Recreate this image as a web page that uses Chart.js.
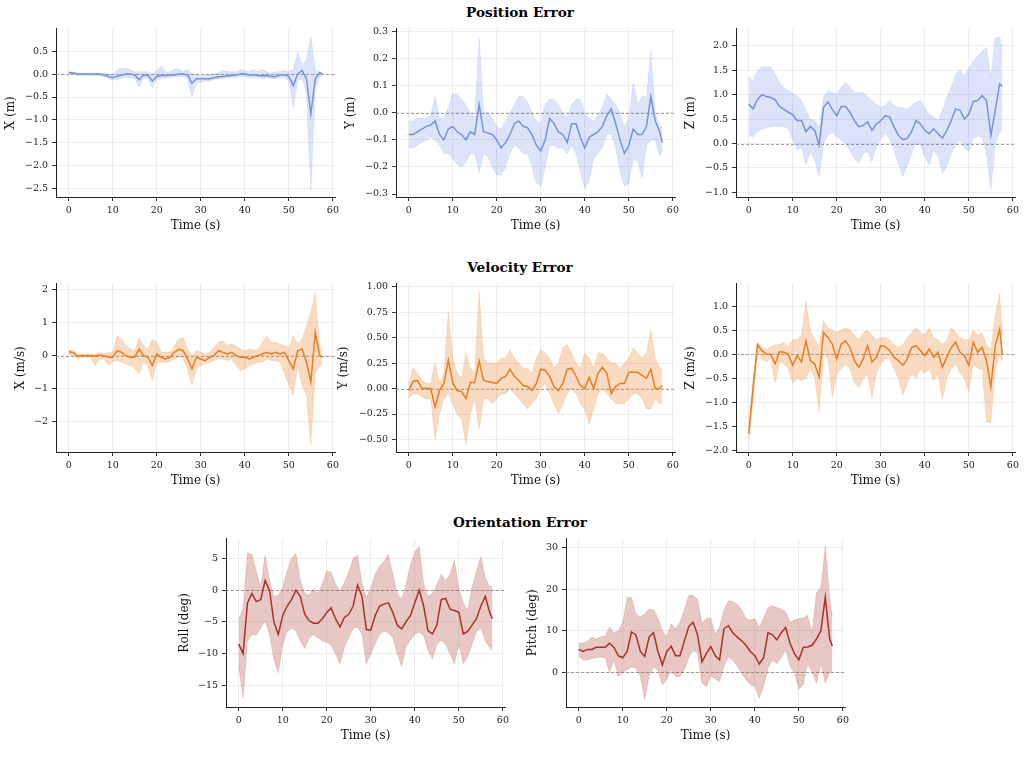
<!DOCTYPE html>
<html>
<head>
<meta charset="utf-8">
<title>Error plots</title>
<script src="https://cdn.jsdelivr.net/npm/chart.js@4.4.1/dist/chart.umd.min.js"></script>
<style>
  body { margin: 0; background: #fff; width: 1025px; height: 776px; position: relative; overflow: hidden; font-family: 'DejaVu Serif', serif; }
  .heading { position: absolute; left: 0; width: 1040px; text-align: center; font-weight: bold; font-size: 13.6px; line-height: 16px; color: #000; }
  canvas { position: absolute; }
</style>
</head>
<body>
<div class="heading" style="top:4px">Position Error</div>
<div class="heading" style="top:259px">Velocity Error</div>
<div class="heading" style="top:514px">Orientation Error</div>

<script>
// time stamps (s)
const TIME = [0,1,2,3,4,5,6,7,8,9,10,11,12,13,14,15,16,17,18,19,20,21,22,23,24,25,26,27,28,29,
  30,31,32,33,34,35,36,37,38,39,40,41,42,43,44,45,46,47,48,49,50,51,52,53,54,55,56,57,57.6];

// ---- position error (m) ----
const POS_X_MEAN = [0.03,0.03,0,0,0,0,0,0,-0.02,-0.05, -0.08,-0.05,-0.02,0,0,-0.02,-0.12,-0.02,-0.03,-0.15,
  -0.05,-0.03,-0.03,-0.02,-0.02,0,0,-0.02,-0.2,-0.1, -0.1,-0.1,-0.1,-0.08,-0.06,-0.05,-0.04,-0.03,-0.02,0,
  0,-0.02,-0.02,-0.03,-0.04,-0.03,-0.05,-0.05,-0.02,-0.02, -0.05,-0.25,0,0.08,-0.1,-0.87,-0.1,0.03, 0];
const POS_X_HI = [0.05,0.05,0.02,0.02,0.02,0.02,0.02,0.02,0.02,0, 0,0.1,0.12,0.12,0.1,0.05,0.05,0.05,0.05,0,
  0.08,0.17,0.05,0.05,0.1,0.12,0.05,0.1,0,0, -0.05,-0.02,0,0,0.03,0.08,0.05,0.05,0.05,0.1,
  0.08,0.05,0.1,0.05,0.1,0.05,0.02,0.05,0.05,0.08, 0.05,0.1,0.47,0.2,0.3,0.82,0.1,0.05, 0.03];
const POS_X_LO = [0,0,-0.03,-0.03,-0.03,-0.03,-0.03,-0.03,-0.05,-0.1, -0.13,-0.12,-0.1,-0.08,-0.08,-0.1,-0.28,-0.08,-0.1,-0.3,
  -0.12,-0.1,-0.08,-0.08,-0.05,-0.05,-0.05,-0.1,-0.5,-0.2, -0.17,-0.15,-0.15,-0.12,-0.1,-0.1,-0.08,-0.08,-0.08,-0.05,
  -0.05,-0.08,-0.08,-0.08,-0.1,-0.08,-0.1,-0.1,-0.08,-0.08, -0.15,-0.7,-0.15,-0.1,-0.4,-2.55,-0.3,-0.05, -0.03];

const POS_Y_MEAN = [-0.08,-0.08,-0.07,-0.06,-0.05,-0.045,-0.03,-0.08,-0.1,-0.06, -0.05,-0.07,-0.08,-0.1,-0.07,-0.08,0.03,-0.07,-0.075,-0.08,
  -0.1,-0.13,-0.11,-0.08,-0.04,-0.03,-0.05,-0.055,-0.08,-0.12, -0.14,-0.1,-0.02,-0.04,-0.07,-0.08,-0.11,-0.04,-0.04,-0.09,
  -0.13,-0.09,-0.08,-0.07,-0.05,-0.01,0.015,-0.04,-0.1,-0.15, -0.12,-0.06,-0.08,-0.08,-0.05,0.06,-0.03,-0.07, -0.11];
const POS_Y_HI = [-0.03,-0.03,-0.02,-0.02,-0.02,-0.01,0.06,-0.02,-0.02,0.02, 0.07,0.07,0.05,0.03,0,-0.02,0.28,0,0,-0.02,
  -0.05,-0.06,-0.03,0,0.03,0.06,0.06,0.04,0,-0.03, -0.04,0.03,0.05,0.05,0.03,0,-0.02,0.03,0.05,0.05,
  0,-0.02,-0.03,-0.01,0.02,0.07,0.05,0.03,0,-0.05, -0.02,0.11,0.03,0.06,0.06,0.23,0,-0.05, -0.05];
const POS_Y_LO = [-0.13,-0.13,-0.12,-0.11,-0.1,-0.09,-0.1,-0.12,-0.15,-0.15, -0.17,-0.19,-0.2,-0.18,-0.15,-0.15,-0.22,-0.15,-0.16,-0.2,
  -0.23,-0.23,-0.2,-0.15,-0.12,-0.13,-0.15,-0.15,-0.2,-0.26, -0.27,-0.2,-0.12,-0.12,-0.13,-0.13,-0.15,-0.12,-0.15,-0.22,
  -0.28,-0.25,-0.17,-0.15,-0.13,-0.08,-0.08,-0.13,-0.22,-0.27, -0.26,-0.17,-0.18,-0.24,-0.12,-0.1,-0.1,-0.16, -0.14];

const POS_Z_MEAN = [0.81,0.71,0.9,1.0,0.96,0.94,0.9,0.76,0.7,0.64, 0.59,0.47,0.47,0.24,0.35,0.27,-0.03,0.74,0.85,0.7,
  0.57,0.76,0.76,0.64,0.47,0.34,0.37,0.44,0.27,0.4, 0.47,0.57,0.54,0.34,0.17,0.08,0.1,0.24,0.47,0.4,
  0.27,0.2,0.3,0.2,0.11,0.27,0.47,0.71,0.68,0.5, 0.6,0.86,0.88,0.98,0.88,0.17,0.68,1.22, 1.17];
const POS_Z_HI = [1.36,1.28,1.49,1.57,1.57,1.57,1.42,1.25,1.15,1.08, 1.03,0.98,0.88,0.68,0.5,0.47,0.34,0.95,1.08,1.05,
  1.01,1.15,1.25,1.15,1.05,1.03,1.05,0.95,0.88,0.81, 0.74,0.78,0.88,0.78,0.73,0.73,0.71,0.78,0.85,0.88,
  0.74,0.6,0.54,0.47,0.68,0.95,1.15,1.42,1.5,1.38, 1.55,1.69,1.79,1.89,1.96,1.35,2.16,2.18, 2.0];
const POS_Z_LO = [0.17,0.14,0.24,0.3,0.32,0.34,0.35,0.35,0.34,0.3, 0.07,-0.14,-0.07,-0.44,-0.17,-0.34,-0.68,0,0.17,0.22,
  0.14,0.07,0,-0.14,-0.3,-0.41,-0.2,-0.17,-0.37,-0.07, 0.1,0.2,0.1,-0.14,-0.41,-0.68,-0.47,-0.2,0,-0.03,
  -0.27,-0.44,-0.14,-0.27,-0.61,-0.47,-0.2,-0.03,0.07,-0.1, -0.17,0.1,0.15,0.14,-0.2,-0.95,0,0.24, 0.27];

// ---- velocity error (m/s) ----
const VEL_X_MEAN = [0.12,0.1,-0.02,0,0,0,-0.02,0.02,0,-0.05, -0.05,0.15,0.1,0,-0.05,-0.05,0.2,0,-0.05,-0.3,
  0.05,-0.05,-0.1,-0.05,0.1,0.2,0.15,-0.1,-0.4,-0.05, -0.1,-0.15,-0.05,0,0.15,0.1,0.05,0.1,0,-0.05,
  -0.05,-0.1,-0.05,0,0.05,0.1,0.05,0.1,0.05,0.1, -0.15,-0.4,0.15,0.2,-0.2,-0.8,0.7,0, -0.05];
const VEL_X_HI = [0.18,0.15,0.05,0.05,0.05,0.05,0.05,0.1,0.05,0.1, 0.1,0.6,0.5,0.3,0.2,0.15,0.55,0.3,0.2,0.5,
  0.4,0.1,0.1,0.1,0.3,0.5,0.55,0.2,0,0.15, 0.1,0.05,0.1,0.25,0.4,0.45,0.3,0.35,0.3,0.2,
  0.15,0.2,0.15,0.2,0.4,0.6,0.4,0.4,0.35,0.3, 0.25,0.6,0.35,0.5,0.9,1.3,1.9,0.3, 0.1];
const VEL_X_LO = [0.05,0,-0.1,-0.05,-0.05,-0.05,-0.3,-0.1,-0.1,-0.3, -0.2,-0.15,-0.2,-0.25,-0.3,-0.4,-0.55,-0.2,-0.3,-0.75,
  -0.2,-0.2,-0.2,-0.2,-0.1,-0.05,-0.1,-0.4,-0.9,-0.4, -0.3,-0.25,-0.2,-0.15,-0.1,-0.1,-0.15,-0.1,-0.3,-0.45,
  -0.4,-0.3,-0.25,-0.2,-0.2,-0.1,-0.15,-0.15,-0.2,-0.55, -0.9,-1.2,-0.3,-0.9,-1.2,-2.7,-0.5,-0.3, -0.25];

const VEL_Y_MEAN = [-0.02,0.07,0.08,0,0,0,-0.18,-0.02,0.05,0.28, 0.06,-0.02,-0.03,-0.1,0.06,0.06,0.27,0.08,0.07,0.06,
  0.05,0.1,0.12,0.19,0.12,0.08,0.03,0.02,-0.02,0.05, 0.19,0.18,0.12,0.02,-0.02,0.05,0.19,0.2,0.12,0.03,
  0,0.11,0,0.15,0.21,0.15,-0.05,0.02,0.05,0.05, 0.16,0.16,0.16,0.13,0.1,0.19,0,0, 0.03];
const VEL_Y_HI = [0.05,0.2,0.15,0.08,0.05,0.05,0.25,0.05,0.15,0.75, 0.3,0.15,0.1,0.35,0.2,0.15,0.95,0.3,0.25,0.25,
  0.25,0.3,0.3,0.38,0.3,0.25,0.2,0.2,0.15,0.3, 0.38,0.35,0.3,0.2,0.25,0.4,0.43,0.35,0.25,0.2,
  0.35,0.3,0.2,0.35,0.35,0.3,0.25,0.25,0.2,0.25, 0.3,0.4,0.35,0.3,0.35,0.58,0.3,0.2, 0.2];
const VEL_Y_LO = [-0.1,-0.05,-0.05,-0.08,-0.1,-0.1,-0.5,-0.25,-0.1,-0.05, -0.15,-0.25,-0.3,-0.55,-0.25,-0.1,-0.4,-0.1,-0.1,-0.15,
  -0.1,-0.05,-0.05,0,-0.05,-0.1,-0.15,-0.2,-0.15,-0.1, 0,0.05,-0.05,-0.15,-0.25,-0.15,-0.05,0,-0.05,-0.15,
  -0.2,-0.35,-0.2,-0.05,0,-0.05,-0.1,-0.15,-0.15,-0.15, -0.1,-0.05,-0.05,-0.1,-0.2,-0.2,-0.1,-0.15, -0.15];

const VEL_Z_MEAN = [-1.65,-0.7,0.2,0.08,0,0,-0.2,0.05,0.04,0, -0.23,-0.03,-0.16,0.28,-0.13,-0.2,-0.47,0.45,0.35,0.21,
  -0.1,0.21,0.28,0.14,-0.13,-0.27,-0.1,0.18,-0.16,-0.06, 0.18,0.16,0.08,-0.06,-0.13,-0.23,-0.1,0.14,0.18,0.08,
  -0.03,0.11,-0.06,0.04,-0.27,-0.06,0.14,0.25,0.04,-0.03, -0.23,0.25,0.04,0.14,-0.13,-0.68,0.18,0.52, 0];
const VEL_Z_HI = [-1.55,-0.5,0.25,0.15,0.1,0.15,0.2,0.2,0.25,0.15, 0.3,0.3,0.4,1.1,0.5,0.3,0.2,0.7,0.55,0.5,
  0.45,0.5,0.55,0.5,0.4,0.3,0.45,0.5,0.4,0.3, 0.35,0.35,0.3,0.2,0.15,0.2,0.35,0.45,0.55,0.45,
  0.4,0.55,0.35,0.3,0.2,0.3,0.55,0.45,0.35,0.3, 0.3,0.5,0.4,0.45,0.2,0.1,0.8,1.25, 0.4];
const VEL_Z_LO = [-1.85,-1.0,0.05,-0.1,-0.15,-0.1,-0.6,-0.15,-0.2,-0.3, -0.6,-0.5,-0.55,-0.5,-0.3,-0.5,-1.2,0,-0.1,-0.9,
  -0.4,-0.3,-0.2,-0.3,-0.6,-0.7,-0.5,-0.4,-0.9,-0.4, -0.2,-0.1,-0.1,-0.3,-0.5,-0.85,-0.6,-0.4,-0.5,-0.3,
  -0.4,-0.3,-0.55,-0.4,-0.95,-0.5,-0.3,-0.2,-0.4,-0.5, -0.8,-0.2,-0.3,-0.3,-1.4,-1.42,-0.3,0, -0.2];

// ---- orientation error (deg) ----
const ROLL_MEAN = [-8.5,-10,-2,-0.5,-1.8,-1.5,1.5,0,-5,-7, -4,-2.5,-1.5,0,-1,-3.8,-4.8,-5.2,-5.2,-4.5,
  -3.5,-2.8,-4.5,-5.8,-4.3,-3.8,-2.5,0.8,-1,-6.2, -6.3,-4,-2.5,-2.2,-2,-3.5,-5.5,-6.1,-5,-4,
  -2,0,-2.5,-6.4,-6.9,-5.5,-1.5,-1.3,-3,-3.2, -3.5,-6.9,-6.5,-5.5,-4.5,-2.5,-1,-3.5, -4.5];
const ROLL_HI = [-4.5,-3,5.9,5.6,3,0.5,5.5,1.5,-1,-0.8, 0.4,3,5,5.8,1.5,-0.5,-0.8,0.2,-0.5,1,
  3,2.8,1,-0.1,1.2,2.8,5,5.5,1,-1.1, 0.3,2.5,3.8,4.5,5.6,2.5,-0.5,-1.5,1,4,
  6,6.9,1,-1,-0.5,0.8,2.5,1.5,2.5,4.7, 0.2,-2,-3.2,0.5,3,5.3,2,0.5, 0.7];
const ROLL_LO = [-12,-17,-8,-7,-7.1,-6,-4.8,-7,-11,-13, -8.5,-6.5,-6,-6.4,-8,-9.2,-7.5,-7,-7.5,-8,
  -8.2,-8.7,-10,-11.6,-9,-7.5,-6,-5.8,-7,-11.6, -10,-8.4,-7,-6.4,-6.8,-7.4,-10,-12,-9,-7.9,
  -7,-6.6,-7.2,-9.5,-10.8,-8.5,-7.9,-8.5,-10,-11.6, -8.5,-11.6,-10.5,-8.5,-6.5,-6,-8,-9, -9.5];

const PITCH_MEAN = [5.5,5,5.5,5.5,6,6,6,7,6,4, 3.5,5,9.7,9,5,3.8,8.5,9.5,5,1.8,
  5,6.3,4,4,7.5,11,12,9,2.5,4.5, 6.2,4,3,10.5,11.2,9.5,8.5,7.6,6.5,5,
  4,2,3.5,9.5,9,7.8,9.5,10.8,7,4.5, 3,6,6.1,6.5,8,10,18,8, 6.3];
const PITCH_HI = [7,7,7.5,8.5,8,8.5,8.7,10.9,9.5,10, 12,18,18,14,13.3,14,15.2,15,13,10,
  8.5,11.7,10.5,12,15,18.5,18.5,17.5,11.7,13, 13,9,11,15,17.2,17,16.4,15,13,12.5,
  12.9,10.9,13,15.5,16,15.5,15.2,14.5,12,12.5, 12.9,13,13.7,9.5,19.2,20.4,30.3,18, 13.3];
const PITCH_LO = [4,3,3,3.3,3.5,3.7,3.5,0,3,-1, 0,0.6,1.3,1,-1,-6.6,-1,1.3,0.5,-3,
  -1.8,0.6,-1,-1,0.6,3.5,5.3,4.5,-2.6,-3.4, -1,-1.5,-2.2,1.5,3.7,2.9,1.5,-0.2,-1.8,-3,
  -3.4,-6.2,-3.4,1,2.9,2.1,3.5,5.3,1.5,-0.2, -4,-3,2.1,0,-2.6,2.1,-2.6,0, 0];

// axis range of the time axis
const X_MIN = -2.88, X_MAX = 60.48;

const BLUE = { line: '#7592dc', band: 'rgba(65,105,225,0.18)' };
const ORANGE = { line: '#e67e22', band: 'rgba(230,126,34,0.28)' };
const RED = { line: '#a93226', band: 'rgba(169,50,38,0.27)' };

// spine = x of the left axis line, axisW = room for tick labels and y title
const PANELS = [
  { spine: 56,  top: 19,  axisW: 56, label: 'X (m)',   mean: POS_X_MEAN, hi: POS_X_HI, lo: POS_X_LO, c: BLUE, ymin: -2.68, ymax: 0.99, step: 0.5, dec: 1 },
  { spine: 396, top: 19,  axisW: 56, label: 'Y (m)',   mean: POS_Y_MEAN, hi: POS_Y_HI, lo: POS_Y_LO, c: BLUE, ymin: -0.311, ymax: 0.311, step: 0.1, dec: 1 },
  { spine: 736, top: 19,  axisW: 56, label: 'Z (m)',   mean: POS_Z_MEAN, hi: POS_Z_HI, lo: POS_Z_LO, c: BLUE, ymin: -1.095, ymax: 2.35, step: 0.5, dec: 1 },
  { spine: 56,  top: 274, axisW: 46, label: 'X (m/s)', mean: VEL_X_MEAN, hi: VEL_X_HI, lo: VEL_X_LO, c: ORANGE, ymin: -2.92, ymax: 2.18, step: 1, dec: 0 },
  { spine: 396, top: 274, axisW: 63, label: 'Y (m/s)', mean: VEL_Y_MEAN, hi: VEL_Y_HI, lo: VEL_Y_LO, c: ORANGE, ymin: -0.623, ymax: 1.03, step: 0.25, dec: 2 },
  { spine: 736, top: 274, axisW: 56, label: 'Z (m/s)', mean: VEL_Z_MEAN, hi: VEL_Z_HI, lo: VEL_Z_LO, c: ORANGE, ymin: -2.03, ymax: 1.466, step: 0.5, dec: 1 },
  { spine: 226, top: 529, axisW: 52, label: 'Roll (deg)',  mean: ROLL_MEAN,  hi: ROLL_HI,  lo: ROLL_LO,  c: RED, ymin: -18.4, ymax: 8.1, step: 5, dec: 0 },
  { spine: 566, top: 529, axisW: 44, label: 'Pitch (deg)', mean: PITCH_MEAN, hi: PITCH_HI, lo: PITCH_LO, c: RED, ymin: -8.33, ymax: 32.1, step: 10, dec: 0 },
];
const PLOT_W = 279, PLOT_H = 170, PAD = 8, X_AXIS_H = 40;

Chart.defaults.font.family = "'DejaVu Serif', serif";
Chart.defaults.color = '#222';

function fmt(v, dec) {
  if (Math.abs(v) < 1e-9) return (0).toFixed(dec);
  return (v < 0 ? '\u2212' : '') + Math.abs(v).toFixed(dec);
}

// dashed reference line at zero
const zeroLine = {
  id: 'zeroLine',
  beforeDatasetsDraw(chart) {
    const { ctx, chartArea, scales } = chart;
    const y = Math.round(scales.y.getPixelForValue(0)) + 0.5;
    ctx.save();
    ctx.strokeStyle = '#8a8a8a';
    ctx.lineWidth = 0.8;
    ctx.setLineDash([3, 2]);
    ctx.beginPath();
    ctx.moveTo(chartArea.left, y);
    ctx.lineTo(chartArea.right, y);
    ctx.stroke();
    ctx.restore();
  }
};

const pts = arr => arr.map((v, i) => ({ x: TIME[i], y: v }));

PANELS.forEach(p => {
  const cv = document.createElement('canvas');
  cv.width = p.axisW + PLOT_W + PAD;
  cv.height = PAD + PLOT_H + X_AXIS_H;
  cv.style.left = (p.spine - p.axisW) + 'px';
  cv.style.top = p.top + 'px';
  document.body.appendChild(cv);

  new Chart(cv, {
    type: 'line',
    data: {
      datasets: [
        { data: pts(p.mean), borderColor: p.c.line, borderWidth: 1.5, pointRadius: 0, fill: false },
        { data: pts(p.hi), borderColor: p.c.band, borderWidth: 0.6, pointRadius: 0, backgroundColor: p.c.band, fill: '+1' },
        { data: pts(p.lo), borderColor: p.c.band, borderWidth: 0.6, pointRadius: 0, fill: false }
      ]
    },
    options: {
      responsive: false,
      animation: false,
      devicePixelRatio: 1,
      layout: { padding: { top: PAD, right: PAD, left: 0, bottom: 0 } },
      plugins: { legend: { display: false }, tooltip: { enabled: false } },
      elements: { line: { tension: 0 } },
      scales: {
        x: {
          type: 'linear', min: X_MIN, max: X_MAX,
          afterFit: s => { s.height = X_AXIS_H; },
          ticks: { stepSize: 10, includeBounds: false, padding: 4, font: { size: 9.5 }, color: '#222', maxRotation: 0,
                   callback: v => fmt(v, 0) },
          grid: { color: '#e9e9e9', lineWidth: 0.8, tickColor: '#333', tickLength: 4, tickWidth: 1 },
          border: { display: true, color: '#222', width: 1 },
          title: { display: true, text: 'Time (s)', font: { size: 12 }, color: '#111', padding: { top: 4, bottom: 4 } }
        },
        y: {
          min: p.ymin, max: p.ymax,
          afterFit: s => { s.width = p.axisW; },
          ticks: { stepSize: p.step, includeBounds: false, padding: 4, font: { size: 9.5 }, color: '#222',
                   callback: v => fmt(v, p.dec) },
          grid: { color: '#e9e9e9', lineWidth: 0.8, tickColor: '#333', tickLength: 4, tickWidth: 1 },
          border: { display: true, color: '#222', width: 1 },
          title: { display: true, text: p.label, font: { size: 12 }, color: '#111', padding: { top: 4, bottom: 4 } }
        }
      }
    },
    plugins: [zeroLine]
  });
});
</script>
</body>
</html>
